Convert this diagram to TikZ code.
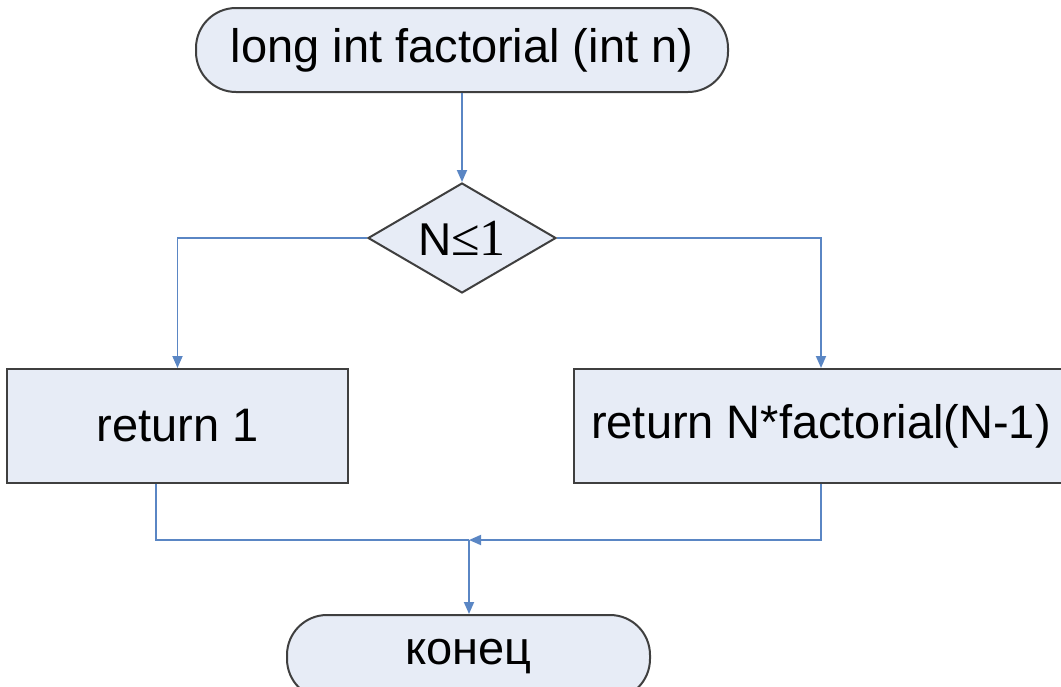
\documentclass[tikz,border=0pt]{standalone}
\usepackage{fontspec}
\setmainfont{Liberation Sans}
\newfontfamily\condserif{Liberation Serif}
\usetikzlibrary{shapes.geometric,arrows.meta}
\definecolor{boxfill}{HTML}{E7ECF6}
\definecolor{flowline}{HTML}{5A86C4}
\definecolor{boxline}{HTML}{3F3F3F}
\begin{document}
\begin{tikzpicture}[x=1pt,y=-1pt,
	term/.style={draw=boxline,fill=boxfill,line width=2pt,rounded corners=40pt,inner sep=0pt,minimum height=84pt,font=\fontsize{47}{56}\selectfont},
	proc/.style={draw=boxline,fill=boxfill,line width=2pt,inner sep=0pt,minimum height=114pt,font=\fontsize{47}{56}\selectfont},
	cond/.style={diamond,aspect=1.7,draw=boxline,fill=boxfill,line width=2pt,inner sep=0pt,minimum width=188pt,minimum height=110pt,font=\fontsize{46}{56}\selectfont},
	flow/.style={draw=flowline,line width=1.8pt},
	arr/.style={flow,-{Triangle[length=12pt,width=10pt]}}]
	\useasboundingbox (0,0) rectangle (1061,686);
	\clip (0,0) rectangle (1061,686);
	\node[term,minimum width=532pt] (start) at (462,50) {long int factorial (int n)};
	\node[cond] (check) at (462,238) {N{\condserif\fontsize{52}{56}\selectfont ≤1}};
	\node[proc,minimum width=341pt] (ret1) at (177.5,426) {return 1};
	\node[proc,minimum width=494pt] (retrec) at (821,426) {return N*factorial(N-1)};
	\node[term,minimum width=363pt] (stop) at (468.5,657) {конец};
	\coordinate (join) at (469,540);
	\draw[arr] (start) -- (check);
	\draw[arr] (check.west) -| (ret1.north);
	\draw[arr] (check.east) -| (retrec.north);
	\draw[flow] ([xshift=-21.5pt]ret1.south) |- (join);
	\draw[arr] (retrec.south) |- (join);
	\draw[arr] (join) -- (join |- stop.north);
\end{tikzpicture}
\end{document}
